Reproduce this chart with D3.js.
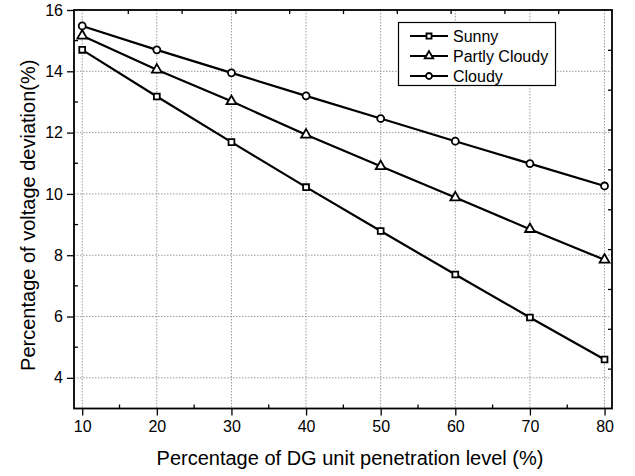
<!DOCTYPE html>
<html>
<head>
<meta charset="utf-8">
<script src="https://cdn.jsdelivr.net/npm/d3@7"></script>
<style>
	body{ margin:0; background:#fff; }
	svg text{ font-family: Arial, "Liberation Sans", sans-serif; fill:#000; }
	.grid line{ stroke:#9a9a9a; stroke-width:1; stroke-dasharray:1.5,1.5; }
	.series path.line{ fill:none; stroke:#000; stroke-width:2.2; }
	.mark{ fill:#fff; stroke:#000; stroke-width:1.8; }
</style>
</head>
<body>
<div id="container"></div>
<script>

// penetration level (%)
var penetration = [10, 20, 30, 40, 50, 60, 70, 80];
// voltage deviation (%) per weather case
var sunny        = [14.70, 13.18, 11.69, 10.22, 8.79, 7.37, 5.97, 4.60];
var partlyCloudy = [15.16, 14.05, 13.02, 11.93, 10.90, 9.88, 8.85, 7.85];
var cloudy       = [15.48, 14.70, 13.95, 13.20, 12.46, 11.72, 10.99, 10.26];

var seriesNames = ["Sunny", "Partly Cloudy", "Cloudy"];
var seriesSymbols = [d3.symbolSquare, d3.symbolTriangle, d3.symbolCircle];
var xTicks = [10, 20, 30, 40, 50, 60, 70, 80];
var yTicks = [4, 6, 8, 10, 12, 14, 16];

var W = 635, H = 476;
var pLeft = 74, pRight = 612, pTop = 10, pBottom = 408.5;

var svg = d3.select("#container").append("svg")
	.attr("width", W).attr("height", H);

var x = d3.scaleLinear().domain([8.9, 81]).range([pLeft, pRight]);
var y = d3.scaleLinear().domain([3, 16]).range([pBottom, pTop]);
// unlabeled companion axes on top / right (0..10 each)
var xTop = d3.scaleLinear().domain([0, 10]).range([pLeft, pRight]);
var yRight = d3.scaleLinear().domain([0, 10]).range([pBottom, pTop]);

// grid
var grid = svg.append("g").attr("class", "grid");
grid.selectAll("line.v").data(xTicks).enter().append("line")
	.attr("x1", d => x(d)).attr("x2", d => x(d))
	.attr("y1", pTop).attr("y2", pBottom);
grid.selectAll("line.h").data(yTicks.filter(d => d < 16)).enter().append("line")
	.attr("x1", pLeft).attr("x2", pRight)
	.attr("y1", d => y(d)).attr("y2", d => y(d));

// bottom axis
var xAxis = svg.append("g").attr("transform", "translate(0," + pBottom + ")")
	.call(d3.axisBottom(x).tickValues(xTicks).tickSize(7).tickPadding(5));
xAxis.selectAll("text").style("font-size", "16px");
xAxis.append("g").selectAll("line").data(d3.range(15, 80, 10)).enter().append("line")
	.attr("x1", d => x(d)).attr("x2", d => x(d)).attr("y1", 0).attr("y2", -4)
	.attr("stroke", "#000").attr("stroke-width", 1.3);

// left axis
var yAxis = svg.append("g").attr("transform", "translate(" + pLeft + ",0)")
	.call(d3.axisLeft(y).tickValues(yTicks).tickSize(7).tickPadding(4));
yAxis.selectAll("text").style("font-size", "16px");
yAxis.append("g").selectAll("line").data(d3.range(5, 16, 2)).enter().append("line")
	.attr("x1", 0).attr("x2", 4).attr("y1", d => y(d)).attr("y2", d => y(d))
	.attr("stroke", "#000").attr("stroke-width", 1.3);

// top and right axes, inward ticks only
var topAxis = svg.append("g").attr("transform", "translate(0," + pTop + ")")
	.call(d3.axisTop(xTop).tickValues(d3.range(1, 10)).tickSize(-4).tickFormat(""));
var rightAxis = svg.append("g").attr("transform", "translate(" + pRight + ",0)")
	.call(d3.axisRight(yRight).tickValues(d3.range(1, 10)).tickSize(-4).tickFormat(""));

[xAxis, yAxis, topAxis, rightAxis].forEach(function(a){
	a.select(".domain").remove();
	a.selectAll(".tick line").attr("stroke-width", 1.3);
});

// frame
svg.append("rect")
	.attr("x", pLeft).attr("y", pTop)
	.attr("width", pRight - pLeft).attr("height", pBottom - pTop)
	.attr("fill", "none").attr("stroke", "#000").attr("stroke-width", 1.8);

// series
var allSeries = [sunny, partlyCloudy, cloudy];
var symSize = [34, 42, 38];
var line = d3.line().x((d, i) => x(penetration[i])).y(d => y(d));

allSeries.forEach(function(vals, s){
	var g = svg.append("g").attr("class", "series");
	g.append("path").attr("class", "line").attr("d", line(vals));
	g.selectAll("path.mark").data(vals).enter().append("path")
		.attr("class", "mark")
		.attr("transform", (d, i) => "translate(" + x(penetration[i]) + "," + y(d) + ")")
		.attr("d", d3.symbol().type(seriesSymbols[s]).size(symSize[s]));
});

// legend
var lg = svg.append("g");
lg.append("rect").attr("x", 398.5).attr("y", 22.5).attr("width", 157).attr("height", 63)
	.attr("fill", "#fff").attr("stroke", "#000").attr("stroke-width", 1.2);
seriesNames.forEach(function(name, s){
	var yy = 36 + s * 20;
	lg.append("line").attr("x1", 410).attr("x2", 448).attr("y1", yy).attr("y2", yy)
		.attr("stroke", "#000").attr("stroke-width", 2.2);
	lg.append("path").attr("class", "mark")
		.attr("transform", "translate(429," + yy + ")")
		.attr("d", d3.symbol().type(seriesSymbols[s]).size(symSize[s] * 0.75));
	lg.append("text").attr("x", 453).attr("y", yy + 6)
		.style("font-size", "16px").text(name);
});

// axis titles
svg.append("text").attr("x", (pLeft + pRight) / 2 + 7).attr("y", 465)
	.attr("text-anchor", "middle").style("font-size", "20px")
	.text("Percentage of DG unit penetration level (%)");
svg.append("text")
	.attr("transform", "translate(35," + ((pTop + pBottom) / 2 + 6) + ") rotate(-90)")
	.attr("text-anchor", "middle").style("font-size", "20px")
	.text("Percentage of voltage deviation(%)");

</script>
</body>
</html>
